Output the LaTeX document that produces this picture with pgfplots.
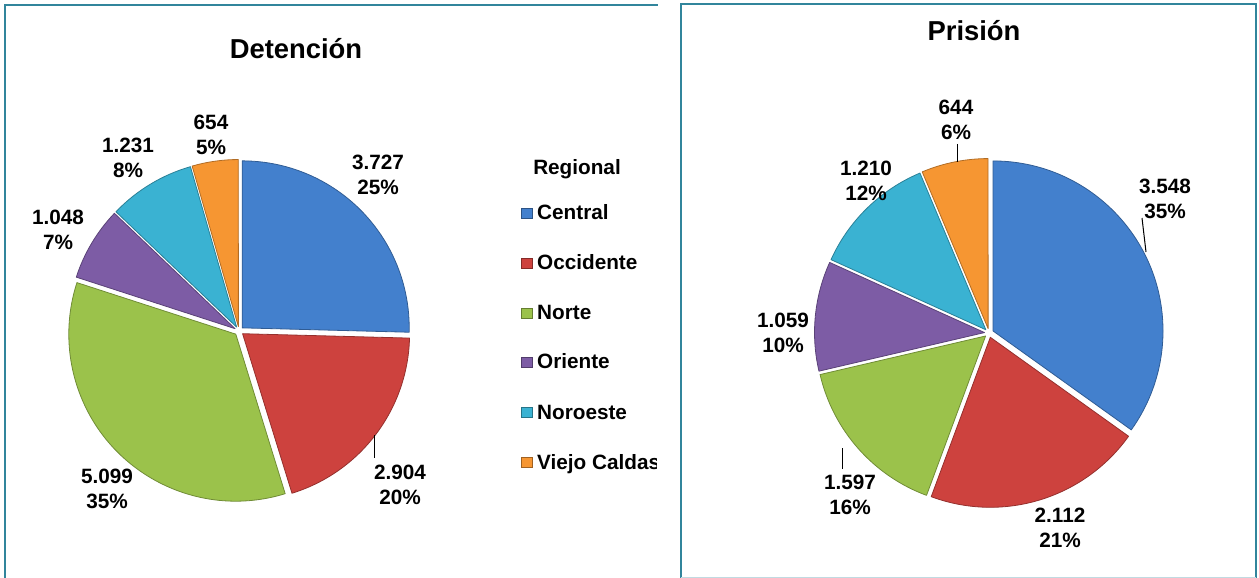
\documentclass[border=0pt]{standalone}
\usepackage{pgfplots}
\pgfplotsset{compat=1.18}
\usepackage{pgfplotstable}
\usepackage{fontspec}
\setmainfont{Liberation Sans}

\definecolor{cCentral}{RGB}{67,128,205}
\definecolor{cOcc}{RGB}{205,66,62}
\definecolor{cNorte}{RGB}{155,194,75}
\definecolor{cOri}{RGB}{125,92,165}
\definecolor{cNoro}{RGB}{58,178,210}
\definecolor{cVC}{RGB}{246,150,50}
\definecolor{frame}{RGB}{49,133,156}

\newcommand{\lblfont}{\bfseries\fontsize{20.8}{25}\selectfont}

% region, value, shown percent, label centre (image px)
\pgfplotstableread[col sep=comma]{
region,value,pct,lx,ly
Central,3727,25,378,175
Occidente,2904,20,400,485
Norte,5099,35,107,489
Oriente,1048,7,58,230
Noroeste,1231,8,128,158
Viejo Caldas,654,5,211,135
}\detencion

\pgfplotstableread[col sep=comma]{
region,value,pct,lx,ly
Central,3548,35,1165,199
Occidente,2112,21,1060,528
Norte,1597,16,850,495
Oriente,1059,10,783,333
Noroeste,1210,12,866,181
Viejo Caldas,644,6,956,120
}\prision

\newcommand{\drawpie}[5]{%
  \pgfplotstablegetrowsof{#1}%
  \pgfmathtruncatemacro{\lastrow}{\pgfplotsretval-1}%
  \gdef\tot{0}%
  \foreach \i in {0,...,\lastrow}{%
    \pgfplotstablegetelem{\i}{value}\of{#1}%
    \pgfmathsetmacro{\tmp}{\tot+\pgfplotsretval}%
    \global\let\tot\tmp
  }%
  \gdef\angA{90}%
  \foreach \i/\col in {0/cCentral,1/cOcc,2/cNorte,3/cOri,4/cNoro,5/cVC}{%
    \pgfplotstablegetelem{\i}{value}\of{#1}\let\val\pgfplotsretval
    \pgfmathsetmacro{\sweep}{360*(\val/\tot)}%
    \pgfmathsetmacro{\angB}{\angA-\sweep}%
    \pgfmathsetmacro{\midang}{\angA-\sweep/2}%
    \begin{scope}[shift={(axis cs:#2,#3)}]
      \filldraw[fill=\col, draw=\col!72!black, line width=0.8bp, line join=round,
        shift={(\midang:#5bp)}]
        (0,0) -- (\angA:#4bp) arc[start angle=\angA, end angle=\angB, radius=#4bp] -- cycle;
    \end{scope}
    \pgfplotstablegetelem{\i}{pct}\of{#1}\let\pc\pgfplotsretval
    \pgfplotstablegetelem{\i}{lx}\of{#1}\let\lx\pgfplotsretval
    \pgfplotstablegetelem{\i}{ly}\of{#1}\let\ly\pgfplotsretval
    \node[align=center, font=\lblfont, inner sep=0pt] at (axis cs:\lx,\ly)
      {\pgfmathprintnumber[1000 sep={.},assume math mode=true]{\val}\\\pc\%};
    \global\let\angA\angB
  }%
}

\begin{document}
\begin{tikzpicture}
\begin{axis}[name=ax, x=1bp, y=1bp, xmin=0, xmax=1259, ymin=0, ymax=578,
  y dir=reverse, hide axis, clip=false, anchor=south west, at={(0,0)}]
\pgfplotsextra{%
  % panel frames
  \draw[frame, line width=2bp] (axis cs:5,578) -- (axis cs:5,5) -- (axis cs:658,5);
  \draw[frame, line width=2bp] (axis cs:681,578) -- (axis cs:681,4) -- (axis cs:1256,4) -- (axis cs:1256,578);
  \draw[frame!30!white, line width=1bp] (axis cs:681,577) -- (axis cs:1256,577);
  % titles
  \node[anchor=base, font=\bfseries\fontsize{27.5}{30}\selectfont, inner sep=0pt] at (axis cs:296,59) {Detención};
  \node[anchor=base, font=\bfseries\fontsize{27.5}{30}\selectfont, inner sep=0pt] at (axis cs:974,41) {Prisión};
  % pies
  \drawpie{\detencion}{239}{331}{167}{4.5}
  \drawpie{\prision}{989}{333}{170}{4.5}
  % leader lines
  \draw[line width=1bp] (axis cs:374,435) -- (axis cs:374,458);
  \draw[line width=1bp] (axis cs:1142,218) -- (axis cs:1146,252);
  \draw[line width=1bp] (axis cs:842,448) -- (axis cs:842,469);
  \draw[line width=1bp] (axis cs:957,144) -- (axis cs:957,162);
  % legend
  \node[anchor=base, font=\bfseries\fontsize{20.8}{25}\selectfont, inner sep=0pt] at (axis cs:577,175) {Regional};
  \begin{scope}
    \clip (axis cs:500,140) rectangle (axis cs:656.5,490);
    \foreach \nm/\col/\yb in {Central/cCentral/220, Occidente/cOcc/270, Norte/cNorte/320,
        Oriente/cOri/369, Noroeste/cNoro/419, Viejo Caldas/cVC/469}{%
      \filldraw[fill=\col, draw=\col!65!black, line width=0.6bp]
        (axis cs:521.5,\yb-12) rectangle (axis cs:532,\yb-1.5);
      \node[anchor=base west, font=\bfseries\fontsize{20.8}{25}\selectfont, inner sep=0pt]
        at (axis cs:537,\yb) {\nm};
    }
  \end{scope}
}
\end{axis}
\pgfresetboundingbox
\path (ax.south west) rectangle (ax.north east);
\end{tikzpicture}
\end{document}
